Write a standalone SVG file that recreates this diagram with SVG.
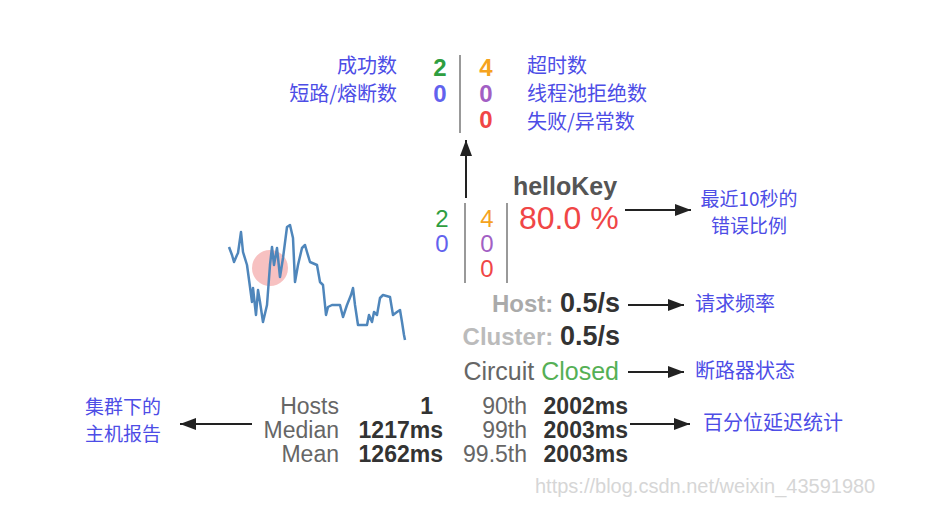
<svg xmlns="http://www.w3.org/2000/svg" width="928" height="527" viewBox="0 0 928 527">
<defs>
<marker id="ah" viewBox="0 0 16 12" refX="16" refY="6" markerWidth="16" markerHeight="12" markerUnits="userSpaceOnUse" orient="auto">
<path d="M0,0 L16,6 L0,12 Z" fill="#222"/>
</marker>
<style>
.cn{font-family:"Noto Sans CJK SC","Liberation Sans",sans-serif;font-size:20px;fill:#4d4de6}
.cn2{font-size:19px}
.t{font-family:"Liberation Sans",Arial,sans-serif}
.dg{font-size:24px;text-anchor:middle}
.b{font-weight:bold}
.g{fill:#2f9e3f}.bl{fill:#6262ee}.o{fill:#f5a31f}.p{fill:#a25fc4}.r{fill:#f04646}
.lab{font-size:23px;fill:#666}
.val{font-size:23px;fill:#333;font-weight:bold}
.sep{stroke:#999;stroke-width:2}
.con{stroke:#222;stroke-width:2;fill:none;marker-end:url(#ah)}
</style>
</defs>
<rect width="928" height="527" fill="#fff"/>

<g id="legend-top">
<text class="cn" x="397" y="73" text-anchor="end">成功数</text>
<text class="cn" x="397" y="101" text-anchor="end">短路/熔断数</text>
<text class="t dg b g" x="440" y="76">2</text>
<text class="t dg b bl" x="440" y="102">0</text>
<line class="sep" x1="460" y1="55" x2="460" y2="133"/>
<text class="t dg b o" x="486" y="76">4</text>
<text class="t dg b p" x="486" y="102">0</text>
<text class="t dg b r" x="486" y="128">0</text>
<text class="cn" x="527" y="73">超时数</text>
<text class="cn" x="527" y="101">线程池拒绝数</text>
<text class="cn" x="527" y="129">失败/异常数</text>
</g>

<g id="sparkline">
<circle cx="270" cy="268" r="18" fill="#f4a6a6" fill-opacity="0.7"/>
<polyline fill="none" stroke="#4f86bb" stroke-width="2.5" stroke-linejoin="round" points="229,247 232,255 234,262 237,255 238,253 241,232 243,252 247,265 250,287 252,302 253,288 256,315 258,290 260,302 263,322 267,305 270,265 272,247 274,265 277,248 280,277 283,258 287,227 290,225 293,238 295,282 298,265 302,248 305,245 307,252 310,262 317,265 320,282 323,285 326,315 328,307 332,305 340,305 343,317 347,305 351,295 353,288 355,305 358,325 367,325 369,315 372,322 374,312 377,315 380,298 383,295 390,297 393,315 397,312 400,310 402,322 404,335 405,340"/>
</g>

<g id="circuit">
<text class="t b" x="565" y="195" text-anchor="middle" font-size="25" fill="#555">helloKey</text>
<text class="t dg g" x="442" y="227">2</text>
<text class="t dg bl" x="442" y="252">0</text>
<line class="sep" x1="465" y1="203" x2="465" y2="283"/>
<text class="t dg o" x="487" y="227">4</text>
<text class="t dg p" x="487" y="252">0</text>
<text class="t dg r" x="487" y="277">0</text>
<line class="sep" x1="507" y1="203" x2="507" y2="283"/>
<text class="t r" x="519" y="229" font-size="32">80.0 %</text>
<text class="t" x="620" y="312" text-anchor="end"><tspan class="b" font-size="24" fill="#aaa">Host: </tspan><tspan font-size="27" class="b" fill="#333">0.5/s</tspan></text>
<text class="t" x="620" y="345" text-anchor="end"><tspan class="b" font-size="24" fill="#bbb">Cluster: </tspan><tspan font-size="27" class="b" fill="#333">0.5/s</tspan></text>
<text class="t" x="619" y="380" text-anchor="end" font-size="25"><tspan fill="#666">Circuit </tspan><tspan fill="#55b055">Closed</tspan></text>
</g>

<g id="stats">
<text class="t lab" x="339" y="414" text-anchor="end">Hosts</text>
<text class="t lab" x="339" y="438" text-anchor="end">Median</text>
<text class="t lab" x="339" y="462" text-anchor="end">Mean</text>
<text class="t val" x="433" y="414" text-anchor="end">1</text>
<text class="t val" x="443" y="438" text-anchor="end">1217ms</text>
<text class="t val" x="443" y="462" text-anchor="end">1262ms</text>
<text class="t lab" x="527" y="414" text-anchor="end">90th</text>
<text class="t lab" x="527" y="438" text-anchor="end">99th</text>
<text class="t lab" x="527" y="462" text-anchor="end">99.5th</text>
<text class="t val" x="628" y="414" text-anchor="end">2002ms</text>
<text class="t val" x="628" y="438" text-anchor="end">2003ms</text>
<text class="t val" x="628" y="462" text-anchor="end">2003ms</text>
</g>

<g id="label-error">
<text class="cn cn2" x="749" y="206" text-anchor="middle">最近10秒的</text>
<text class="cn cn2" x="749" y="233" text-anchor="middle">错误比例</text>
</g>
<g id="label-rate"><text class="cn" x="695" y="311">请求频率</text></g>
<g id="label-breaker"><text class="cn" x="695" y="378">断路器状态</text></g>
<g id="label-hosts">
<text class="cn cn2" x="85" y="414">集群下的</text>
<text class="cn cn2" x="85" y="441">主机报告</text>
</g>
<g id="label-latency"><text class="cn" x="703" y="430">百分位延迟统计</text></g>

<g id="connectors">
<line class="con" x1="466" y1="198" x2="466" y2="140"/>
<line class="con" x1="625" y1="210" x2="691" y2="210"/>
<line class="con" x1="628" y1="305" x2="684" y2="305"/>
<line class="con" x1="628" y1="372" x2="684" y2="372"/>
<line class="con" x1="252" y1="424" x2="180" y2="424"/>
<line class="con" x1="630" y1="424" x2="690" y2="424"/>
</g>

<text class="t" x="535" y="493" font-size="20" fill="#d6d6d6">https://blog.csdn.net/weixin_43591980</text>
</svg>
